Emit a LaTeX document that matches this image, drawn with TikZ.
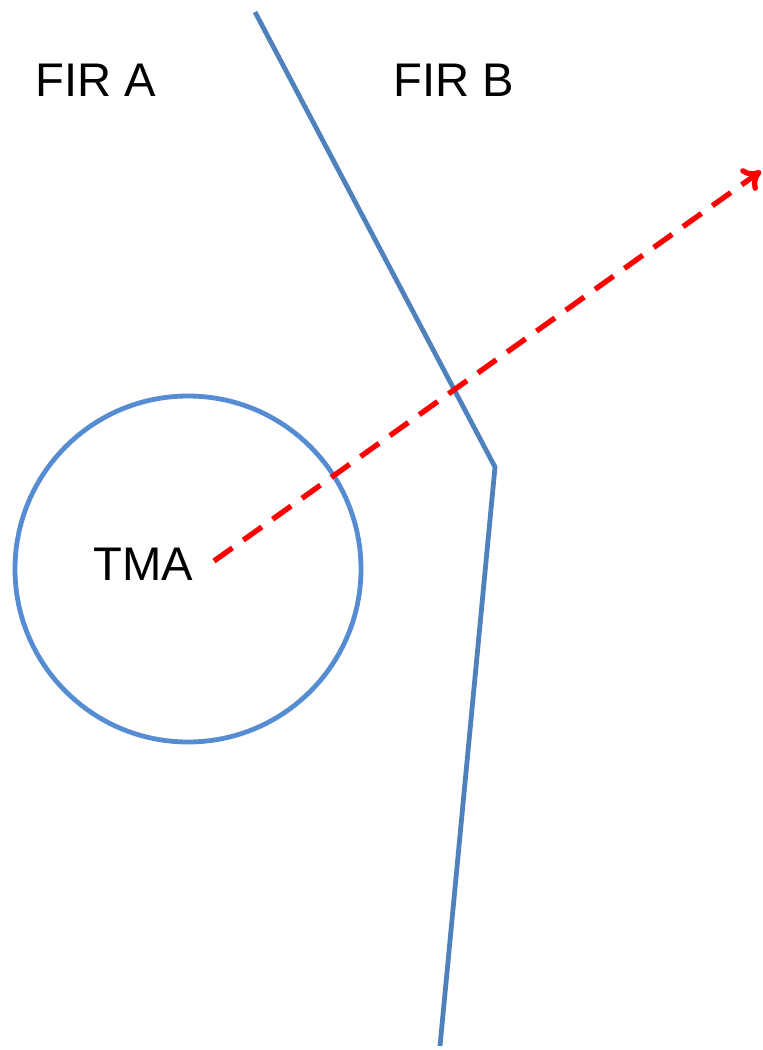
\documentclass[tikz,border=0pt]{standalone}
\usepackage{fontspec}
\setmainfont{Liberation Sans}
\usetikzlibrary{arrows.meta}
\definecolor{firline}{RGB}{79,129,189}
\definecolor{tmaline}{RGB}{85,140,210}
\definecolor{routered}{RGB}{255,0,0}
\begin{document}
\begin{tikzpicture}[x=0.75pt,y=-0.75pt,
  lbl/.style={anchor=base west,inner sep=0pt,font=\fontsize{35.4}{40}\selectfont},
  border/.style={draw=firline,line width=3.6pt,line join=miter},
  tmacircle/.style={draw=tmaline,line width=3.6pt},
  route/.style={draw=routered,line width=4pt,dash pattern=on 17pt off 10pt,-{To[length=13pt,width=20pt,line width=4pt]}}]
\useasboundingbox (0,0) rectangle (763,1050);
\coordinate (btop) at (255,12);
\coordinate (bbend) at (495,467);
\coordinate (bbot) at (440,1046);
\draw[border] (btop) -- (bbend) -- (bbot);
\node[tmacircle,circle,minimum size=346*0.75pt,inner sep=0pt] (tmaring) at (188,569) {};
\node[lbl] (fira) at (35,96) {FIR A};
\node[lbl] (firb) at (393,96) {FIR B};
\node[lbl] (tma) at (93,580) {TMA};
\coordinate (rstart) at (214,561);
\coordinate (rend) at (761,171);
\draw[route] (rstart) -- (rend);
\end{tikzpicture}
\end{document}
